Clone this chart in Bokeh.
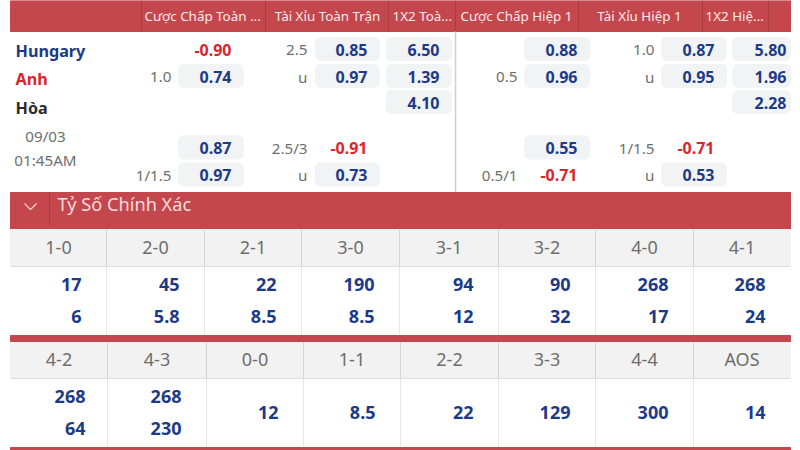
from bokeh.core.properties import value
from bokeh.embed import file_html
from bokeh.models import Range1d
from bokeh.plotting import figure
from bokeh.resources import INLINE

# data
headers = ["Cược Chấp Toàn ...", "Tài Xỉu Toàn Trận", "1X2 Toà...",
           "Cược Chấp Hiệp 1", "Tài Xỉu Hiệp 1", "1X2 Hiệ..."]
teams = ["Hungary", "Anh", "Hòa"]
match_date = "09/03"
match_time = "01:45AM"
section_title = "Tỷ Số Chính Xác"

ft_hdp_lines = ["", "1.0", "", "", "1/1.5"]
ft_hdp_odds = [-0.90, 0.74, None, 0.87, 0.97]
ft_ou_lines = ["2.5", "u", "", "2.5/3", "u"]
ft_ou_odds = [0.85, 0.97, None, -0.91, 0.73]
ft_1x2_odds = [6.50, 1.39, 4.10, None, None]
h1_hdp_lines = ["", "0.5", "", "", "0.5/1"]
h1_hdp_odds = [0.88, 0.96, None, 0.55, -0.71]
h1_ou_lines = ["1.0", "u", "", "1/1.5", "u"]
h1_ou_odds = [0.87, 0.95, None, -0.71, 0.53]
h1_1x2_odds = [5.80, 1.96, 2.28, None, None]

scores_a = ["1-0", "2-0", "2-1", "3-0", "3-1", "3-2", "4-0", "4-1"]
home_a = ["17", "45", "22", "190", "94", "90", "268", "268"]
away_a = ["6", "5.8", "8.5", "8.5", "12", "32", "17", "24"]
scores_b = ["4-2", "4-3", "0-0", "1-1", "2-2", "3-3", "4-4", "AOS"]
home_b = ["268", "268", "12", "8.5", "22", "129", "300", "14"]
away_b = ["64", "230", None, None, None, None, None, None]

# layout, in page pixels
FONT = "Noto Sans"
RED = "#c4474d"
DARK_RED = "#a93a40"
BLUE = "#1c3a87"
NEG = "#d8262c"
GREY = "#6e6e6e"
BOX = "#f2f3f5"
CELL = "#f2f2f2"
LINE = "#dcdcdc"

p = figure(width=800, height=450, x_range=Range1d(0, 800), y_range=Range1d(450, 0),
           output_backend="svg", toolbar_location=None, min_border=0)
p.axis.visible = False
p.grid.visible = False
p.outline_line_color = None
p.background_fill_color = "white"


def label(x, y, text, size=15, color=GREY, align="left", bold=False):
    p.text([x], [y], text=[text], text_font=value(FONT), text_font_size=f"{size}px",
           text_color=color, text_align=align, text_baseline="middle",
           text_font_style="bold" if bold else "normal")


# header band
p.quad(left=10, right=790, top=0, bottom=31, color=RED)
p.segment(x0=[141, 265, 388, 455, 578, 702, 768], y0=0,
          x1=[141, 265, 388, 455, 578, 702, 768], y1=31, color=DARK_RED, line_width=1)
header_pos = [(144, "left"), (327, "center"), (392, "left"), (516, "center"), (639, "center"), (705, "left")]
for (hx, ha), h in zip(header_pos, headers):
    label(hx, 15.5, h, size=13.4, color="#fbeaea", align=ha)

# team names and time
for y, t, c in zip([50.5, 78, 107.5], teams, [BLUE, "#d8262c", "#2b2b2b"]):
    label(15, y, t, size=16.2, color=c, bold=True)
label(45, 135.5, match_date, size=15.2, align="center")
label(45, 159.5, match_time, size=15.2, align="center")

# odds columns
row_y = [49.5, 76.5, 102.5, 148, 175]
columns = [
    (ft_hdp_lines, ft_hdp_odds, 171, 178, 243),
    (ft_ou_lines, ft_ou_odds, 307, 315, 379),
    (None, ft_1x2_odds, None, 386, 451),
    (h1_hdp_lines, h1_hdp_odds, 517, 524, 589),
    (h1_ou_lines, h1_ou_odds, 654, 661, 726),
    (None, h1_1x2_odds, None, 732, 790),
]
for lines, odds, line_x, box_l, box_r in columns:
    for i, y in enumerate(row_y):
        if lines and lines[i]:
            label(line_x, y - 0.5, lines[i], size=15.2, align="right")
        v = odds[i]
        if v is None:
            continue
        if v > 0:
            p.quad(left=box_l, right=box_r, top=y - 12.5, bottom=y + 10.5, color=BOX, border_radius=5)
        label(box_r - 12 if box_r < 780 else box_r - 4, y - 0.5, f"{v:.2f}", size=16,
              color=BLUE if v > 0 else NEG, align="right", bold=True)

p.segment(x0=[455], y0=[31], x1=[455], y1=[192], color="#cfcfcf", line_width=1.5)

# exact score band
p.quad(left=10, right=790, top=192, bottom=229, color=RED)
p.segment(x0=[49], y0=[192], x1=[49], y1=[224], color=DARK_RED, line_width=1)
p.line([24, 30, 36], [203, 209, 203], color="#f3d5d5", line_width=1.2)
label(57, 203, section_title, size=18.2, color="#f7dcdc")

# exact score grids
edges_a = [10, 106, 204, 301, 399, 498, 595, 693, 790]
edges_b = [10, 107, 206, 303, 400, 498, 595, 693, 790]
grids = [(scores_a, home_a, away_a, edges_a, 229), (scores_b, home_b, away_b, edges_b, 341)]
for scores, home, away, edges, top in grids:
    p.quad(left=10, right=790, top=top, bottom=top + 37, color=CELL)
    p.segment(x0=edges[1:-1], y0=top, x1=edges[1:-1], y1=top + 37, color="#d4d4d4", line_width=1)
    p.segment(x0=edges[1:-1], y0=top + 37, x1=edges[1:-1], y1=top + 105, color="#e6e6e6", line_width=1)
    p.segment(x0=[10], y0=[top + 37], x1=[790], y1=[top + 37], color=LINE, line_width=1)
    for i, s in enumerate(scores):
        label((edges[i] + edges[i + 1]) / 2, top + 17.5, s, size=18, align="center")
        right = edges[i + 1] - 25 + (3 if i == 0 and top > 300 else 0)
        if away[i] is None:
            label(right, top + 70.5, home[i], size=18, color=BLUE, align="right", bold=True)
        else:
            label(right, top + 54.5, home[i], size=18, color=BLUE, align="right", bold=True)
            label(right, top + 86.5, away[i], size=18, color=BLUE, align="right", bold=True)

p.quad(left=10, right=790, top=335, bottom=341, color=RED)
p.quad(left=10, right=790, top=447, bottom=450, color=RED)

open("out.html", "w").write(file_html(p, INLINE))
